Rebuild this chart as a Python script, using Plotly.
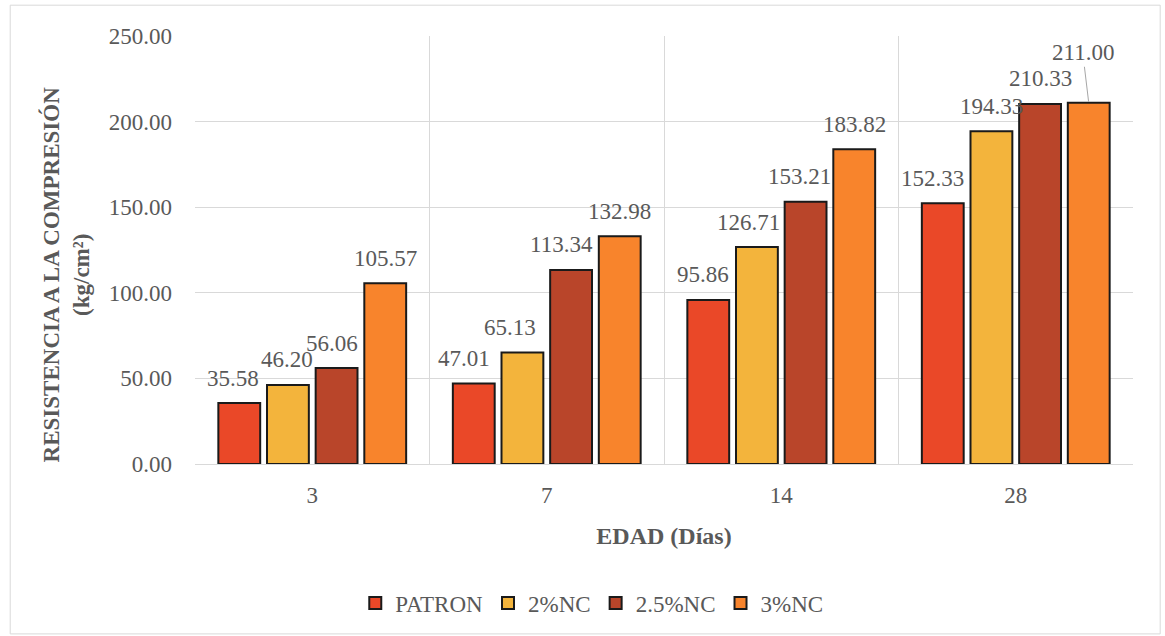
import plotly.graph_objects as go

# Compressive strength by curing age and mix
edades = ["3", "7", "14", "28"]
series = ["PATRON", "2%NC", "2.5%NC", "3%NC"]
patron = [35.58, 47.01, 95.86, 152.33]
nc_2 = [46.20, 65.13, 126.71, 194.33]
nc_25 = [56.06, 113.34, 153.21, 210.33]
nc_3 = [105.57, 132.98, 183.82, 211.00]
y_ticks = [0, 50, 100, 150, 200, 250]

valores = [patron, nc_2, nc_25, nc_3]
colores = ["#EA4828", "#F3B43C", "#B9452A", "#F8842C"]

FONT = "Liberation Serif, Times New Roman, serif"
GRIS = "#595959"
FS = 23
BARGAP = 0.17
GROUPGAP = 0.14

fig = go.Figure()
for nombre, vals, col in zip(series, valores, colores):
    fig.add_trace(go.Bar(
        name=nombre, x=edades, y=vals,
        marker=dict(color=col, line=dict(color="#1a1a1a", width=2)),
        hoverinfo="x+y+name",
    ))

# value labels above each bar (small horizontal nudges keep them readable)
nudge = [
    [-6, -10, -5, -10],
    [-1, -12, -8, 0],
    [-5, -10, -6, 0],
    [0, 0, 0, -6],
]
slot = (1 - BARGAP) / len(series)
anns = []
for j, vals in enumerate(valores):
    off = -(1 - BARGAP) / 2 + slot * (j + 0.5)
    for i, v in enumerate(vals):
        lead = (j == 3 and i == 3)
        a = dict(
            x=i + off, y=v, xref="x", yref="y",
            text=f"{v:.2f}",
            font=dict(family=FONT, size=FS, color=GRIS),
            yanchor="middle", xanchor="center",
        )
        if lead:
            a.update(showarrow=True, arrowhead=0, arrowwidth=1,
                     arrowcolor="#a6a6a6", ax=nudge[j][i], ay=-50,
                     standoff=1)
        else:
            a.update(showarrow=False, xshift=nudge[j][i], yshift=25)
        anns.append(a)

anns.append(dict(
    text="<b>RESISTENCIA A LA COMPRESIÓN<br>(kg/cm²)</b>",
    xref="paper", yref="paper", x=-0.138, y=0.442,
    textangle=-90, showarrow=False,
    font=dict(family=FONT, size=23, color=GRIS),
    xanchor="center", yanchor="middle",
))

fig.update_layout(
    width=1165, height=636,
    margin=dict(l=195, r=32, t=36, b=172),
    paper_bgcolor="white", plot_bgcolor="white",
    barmode="group", bargap=BARGAP, bargroupgap=GROUPGAP,
    font=dict(family=FONT, size=FS, color=GRIS),
    showlegend=True,
    legend=dict(orientation="h", x=0.423, xanchor="center",
                y=-0.325, yanchor="middle",
                font=dict(family=FONT, size=FS, color=GRIS),
                itemwidth=30, tracegroupgap=0),
    annotations=anns,
    shapes=[dict(type="rect", xref="paper", yref="paper",
                 x0=-0.197, x1=1.029, y0=-0.397, y1=1.072,
                 line=dict(color="#d9d9d9", width=1), layer="below")],
)
fig.update_xaxes(
    type="category", tickson="boundaries", ticks="",
    showgrid=True, gridcolor="#d9d9d9", gridwidth=1,
    showline=True, linecolor="#d9d9d9", linewidth=1,
    ticklabelstandoff=10,
    tickfont=dict(family=FONT, size=FS, color=GRIS),
    title=dict(text="<b>EDAD (Días)</b>", standoff=20,
               font=dict(family=FONT, size=24, color=GRIS)),
)
fig.update_yaxes(
    range=[0, 250], tickvals=y_ticks,
    ticktext=[f"{t:.2f}" for t in y_ticks],
    showgrid=True, gridcolor="#d9d9d9", gridwidth=1,
    zeroline=False, showline=False, ticks="",
    ticklabelstandoff=22,
    tickfont=dict(family=FONT, size=FS, color=GRIS),
)

fig.write_html("out.html")
